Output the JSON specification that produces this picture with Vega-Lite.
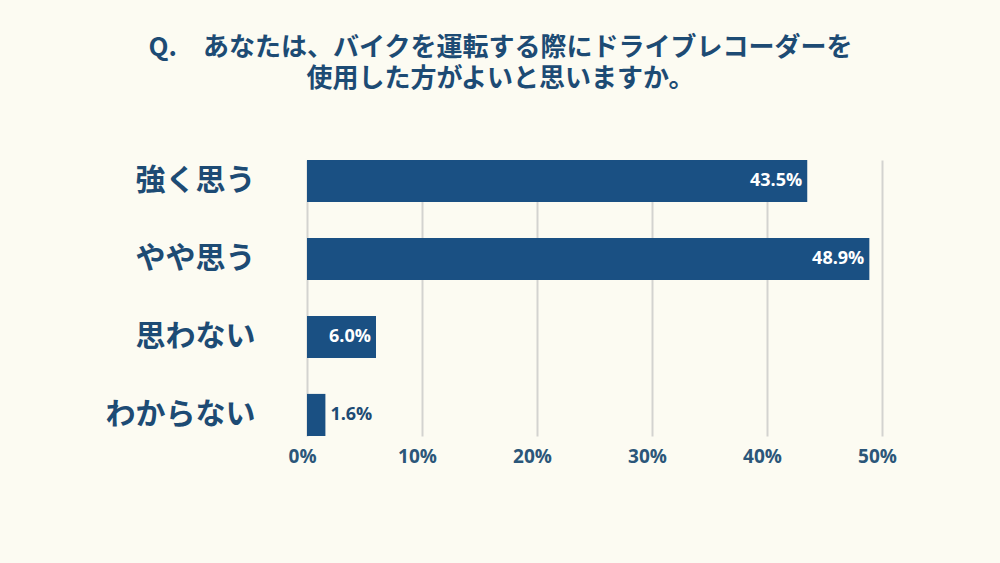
{
  "$schema": "https://vega.github.io/schema/vega-lite/v6.json",
  "width": 575,
  "height": 276,
  "autosize": {"type": "none"},
  "padding": {"left": 307, "top": 160, "right": 118, "bottom": 127},
  "background": "#fcfbf2",
  "title": {
    "text": ["Q.　あなたは、バイクを運転する際にドライブレコーダーを", "使用した方がよいと思いますか。"],
    "font": "Noto Sans CJK JP",
    "fontSize": 26,
    "fontWeight": "bold",
    "color": "#1d4b74",
    "lineHeight": 31,
    "anchor": "middle",
    "dx": -94,
    "offset": 68
  },
  "data": {
    "values": [
      {"answer": "強く思う", "value": 43.5, "label": "43.5%"},
      {"answer": "やや思う", "value": 48.9, "label": "48.9%"},
      {"answer": "思わない", "value": 6.0, "label": "6.0%"},
      {"answer": "わからない", "value": 1.6, "label": "1.6%"}
    ]
  },
  "config": {
    "view": {"stroke": null},
    "axis": {"domain": false, "ticks": false}
  },
  "encoding": {
    "y": {
      "field": "answer",
      "type": "nominal",
      "sort": null,
      "title": null,
      "scale": {"paddingInner": 0.46, "paddingOuter": 0},
      "axis": {
        "labelFont": "Noto Sans CJK JP",
        "labelFontSize": 30,
        "labelFontWeight": "bold",
        "labelColor": "#1d4b74",
        "labelPadding": 52,
        "grid": false
      }
    },
    "x": {
      "field": "value",
      "type": "quantitative",
      "title": null,
      "scale": {"domain": [0, 50], "nice": false},
      "axis": {
        "values": [0, 10, 20, 30, 40, 50],
        "labelExpr": "datum.value + '%'",
        "labelFlush": false,
        "labelOffset": -5,
        "labelFont": "Open Sans",
        "labelFontSize": 19,
        "labelFontWeight": "bold",
        "labelColor": "#2b5679",
        "labelPadding": 11,
        "grid": true,
        "gridColor": "#d3d3d0",
        "gridWidth": 2
      }
    }
  },
  "layer": [
    {"mark": {"type": "bar", "color": "#1a5083"}},
    {
      "transform": [{"filter": "datum.value > 3"}],
      "mark": {"type": "text", "align": "right", "dx": -5, "font": "Open Sans", "fontSize": 18, "fontWeight": "bold", "color": "#ffffff"},
      "encoding": {"text": {"field": "label", "type": "nominal"}, "x": {"field": "value", "type": "quantitative"}}
    },
    {
      "transform": [{"filter": "datum.value <= 3"}],
      "mark": {"type": "text", "align": "left", "dx": 5, "font": "Open Sans", "fontSize": 18, "fontWeight": "bold", "color": "#1d4b74"},
      "encoding": {"text": {"field": "label", "type": "nominal"}, "x": {"field": "value", "type": "quantitative"}}
    }
  ]
}
